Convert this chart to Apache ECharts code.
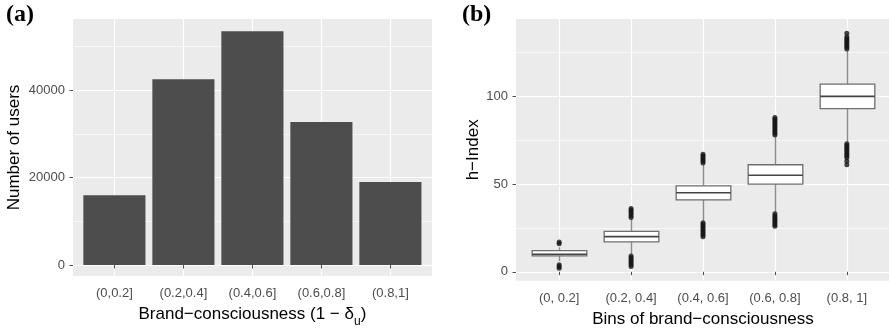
<!DOCTYPE html>
<html><head><meta charset="utf-8">
<script src="https://cdn.jsdelivr.net/npm/echarts@6/dist/echarts.min.js"></script>
<style>html,body{margin:0;padding:0;background:#fff}#c{width:889px;height:334px}</style>
</head><body><div id="c"></div>
<script>
// ---- Panel (a): bar chart ----
const barCategories = ['(0,0.2]', '(0.2,0.4]', '(0.4,0.6]', '(0.6,0.8]', '(0.8,1]'];
const userCounts = [16000, 42550, 53550, 32750, 19000];
const userTicks = [0, 20000, 40000];
const userMinorTicks = [10000, 30000, 50000];

// ---- Panel (b): box plots of h-Index ----
const boxCategories = ['(0, 0.2]', '(0.2, 0.4]', '(0.4, 0.6]', '(0.6, 0.8]', '(0.8, 1]'];
// [lower whisker, Q1, median, Q3, upper whisker]
const boxStats = [
  [6, 9, 10, 12, 14],
  [10, 17, 20, 23, 30],
  [29, 41, 45, 49, 61],
  [34, 50, 55, 61, 77],
  [74, 93, 100, 107, 126]
];
const outliersUpper = [
  [16, 17],
  [31, 32, 33, 34, 35, 36],
  [62, 63, 64, 65, 66, 67],
  [78, 79, 80, 81, 82, 83, 84, 85, 86, 87, 88],
  [127, 128, 129, 130, 131, 132, 133, 134, 136]
];
const outliersLower = [
  [2, 3, 4],
  [3, 4, 5, 6, 7, 8, 9],
  [20, 21, 22, 23, 24, 25, 26, 27, 28],
  [26, 27, 28, 29, 30, 31, 32, 33],
  [61, 63, 65, 66, 67, 68, 69, 70, 71, 72, 73]
];
const hTicks = [0, 50, 100];
const hMinorTicks = [25, 75, 125];

const FONT = '"Liberation Sans", Arial, sans-serif';
const PANEL_BG = '#EBEBEB';
const TICK_COLOR = '#4D4D4D';
const LABEL_COLOR = '#4D4D4D';

const boxData = boxStats.map((s, i) => [i].concat(s));
const outlierData = [];
outliersUpper.forEach((arr, i) => arr.forEach(v => outlierData.push([i, v])));
outliersLower.forEach((arr, i) => arr.forEach(v => outlierData.push([i, v])));

function renderBox(params, api) {
  const x = api.value(0);
  const lo = api.coord([x, api.value(1)]);
  const q1 = api.coord([x, api.value(2)]);
  const md = api.coord([x, api.value(3)]);
  const q3 = api.coord([x, api.value(4)]);
  const hi = api.coord([x, api.value(5)]);
  const bw = api.size([1, 0])[0] * 0.76;
  const cx = Math.round(lo[0]) + 0.5;
  const wStyle = { stroke: '#8c8c8c', lineWidth: 1.4 };
  return {
    type: 'group',
    children: [
      { type: 'line', shape: { x1: cx, y1: hi[1], x2: cx, y2: q3[1] }, style: wStyle },
      { type: 'line', shape: { x1: cx, y1: q1[1], x2: cx, y2: lo[1] }, style: wStyle },
      { type: 'rect', shape: { x: cx - bw / 2, y: q3[1], width: bw, height: q1[1] - q3[1] },
        style: { fill: '#ffffff', stroke: '#6e6e6e', lineWidth: 1.3 } },
      { type: 'line', shape: { x1: cx - bw / 2, y1: md[1], x2: cx + bw / 2, y2: md[1] },
        style: { stroke: '#444444', lineWidth: 1.6 } }
    ]
  };
}

const majorSplit = { show: true, lineStyle: { color: '#ffffff', width: 1.2 } };
const minorSplit = { show: true, lineStyle: { color: '#ffffff', width: 0.6 } };
const plain = v => String(v);

function catAxis(gridIndex, data, name, nameRich) {
  return {
    type: 'category', gridIndex: gridIndex, data: data,
    axisLine: { show: false },
    axisTick: { show: true, alignWithLabel: true, length: 3.5, lineStyle: { color: TICK_COLOR, width: 1 } },
    axisLabel: { color: LABEL_COLOR, fontSize: 13, fontFamily: FONT, margin: 11, interval: 0 },
    splitLine: { show: true, alignWithLabel: true, lineStyle: { color: '#ffffff', width: 1.2 } },
    name: name, nameLocation: 'middle', nameGap: 30,
    nameTextStyle: { color: '#000', fontSize: 17, fontFamily: FONT, rich: nameRich }
  };
}

const option = {
  animation: false,
  backgroundColor: '#ffffff',
  grid: [
    { left: 73, right: 457, top: 19, bottom: 58, show: true, backgroundColor: PANEL_BG, borderWidth: 0 },
    { left: 79.9, right: 464.1, top: 19, bottom: 58 },
    { left: 516, right: -1, top: 19, bottom: 53.3, show: true, backgroundColor: PANEL_BG, borderWidth: 0 },
    { left: 523.2, right: 6.2, top: 19, bottom: 53.3 }
  ],
  xAxis: [
    { type: 'value', gridIndex: 0, min: 0, max: 1, show: false },
    catAxis(1, barCategories, '{m|Brand\u2212consciousness (1 \u2212 \u03b4}{s|u}{m|)}', {
      m: { fontSize: 17, fontFamily: FONT, color: '#000', lineHeight: 22, verticalAlign: 'top' },
      s: { fontSize: 12, fontFamily: FONT, color: '#000', lineHeight: 12, verticalAlign: 'bottom' }
    }),
    { type: 'value', gridIndex: 2, min: 0, max: 1, show: false },
    catAxis(3, boxCategories, 'Bins of brand\u2212consciousness', {})
  ],
  yAxis: [
    { type: 'value', gridIndex: 0, min: -2520, max: 56340,
      axisLine: { show: false },
      axisTick: { show: true, length: 3.5, customValues: userTicks, lineStyle: { color: TICK_COLOR } },
      axisLabel: { customValues: userTicks, formatter: plain, color: LABEL_COLOR, fontSize: 13, fontFamily: FONT, margin: 8 },
      splitLine: majorSplit,
      name: 'Number of users', nameLocation: 'middle', nameGap: 50,
      nameTextStyle: { color: '#000', fontSize: 17, fontFamily: FONT } },
    { type: 'value', gridIndex: 0, min: -2520, max: 56340, position: 'right',
      axisLine: { show: false }, axisLabel: { show: false },
      axisTick: { show: false, customValues: userMinorTicks },
      splitLine: minorSplit },
    { type: 'value', gridIndex: 1, min: -2520, max: 56340, show: false },
    { type: 'value', gridIndex: 2, min: -5.1, max: 144.1,
      axisLine: { show: false },
      axisTick: { show: true, length: 3.5, customValues: hTicks, lineStyle: { color: TICK_COLOR } },
      axisLabel: { customValues: hTicks, formatter: plain, color: LABEL_COLOR, fontSize: 13, fontFamily: FONT, margin: 8 },
      splitLine: majorSplit,
      name: 'h\u2212Index', nameLocation: 'middle', nameGap: 34,
      nameTextStyle: { color: '#000', fontSize: 17, fontFamily: FONT } },
    { type: 'value', gridIndex: 2, min: -5.1, max: 144.1, position: 'right',
      axisLine: { show: false }, axisLabel: { show: false },
      axisTick: { show: false, customValues: hMinorTicks },
      splitLine: minorSplit },
    { type: 'value', gridIndex: 3, min: -5.1, max: 144.1, show: false }
  ],
  series: [
    { type: 'bar', xAxisIndex: 1, yAxisIndex: 2, data: userCounts, barWidth: '90%',
      itemStyle: { color: '#4D4D4D' }, silent: true },
    { type: 'custom', xAxisIndex: 3, yAxisIndex: 5, data: boxData, renderItem: renderBox,
      encode: { x: 0, y: [1, 2, 3, 4, 5] }, silent: true },
    { type: 'scatter', xAxisIndex: 3, yAxisIndex: 5, data: outlierData, symbol: 'circle', symbolSize: 5,
      itemStyle: { color: '#141414' }, silent: true }
  ],
  graphic: [
    { type: 'text', left: 6, top: 3, style: { text: '(a)', font: 'bold 24px "Liberation Serif", "Times New Roman", serif', fill: '#000' } },
    { type: 'text', left: 462, top: 3, style: { text: '(b)', font: 'bold 24px "Liberation Serif", "Times New Roman", serif', fill: '#000' } }
  ]
};

const chart = echarts.init(document.getElementById('c'), null, { renderer: 'canvas' });
chart.setOption(option);
</script>
</body></html>
